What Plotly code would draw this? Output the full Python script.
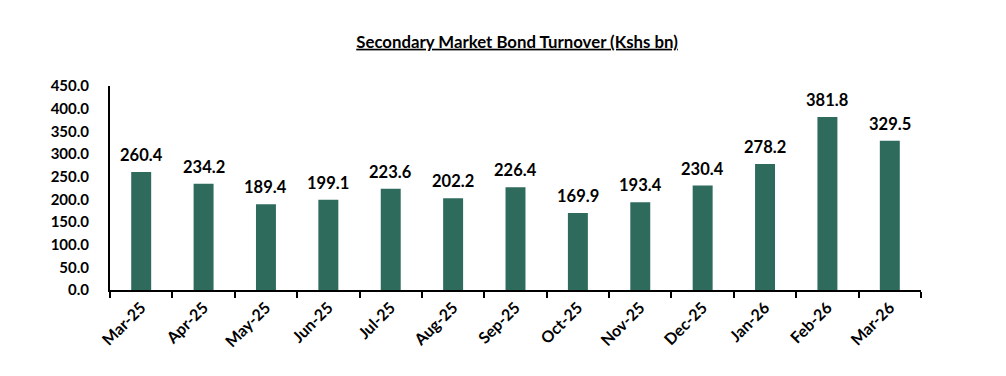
import plotly.graph_objects as go

months = ["Mar-25", "Apr-25", "May-25", "Jun-25", "Jul-25", "Aug-25", "Sep-25",
          "Oct-25", "Nov-25", "Dec-25", "Jan-26", "Feb-26", "Mar-26"]
turnover = [260.4, 234.2, 189.4, 199.1, 223.6, 202.2, 226.4,
            169.9, 193.4, 230.4, 278.2, 381.8, 329.5]
y_ticks = [0, 50, 100, 150, 200, 250, 300, 350, 400, 450]

FONT = "Lato, 'Open Sans', sans-serif"

fig = go.Figure(go.Bar(
    x=months, y=turnover,
    marker=dict(color="#2E6B5D", line=dict(width=0)),
    width=0.32,
    cliponaxis=False,
))

for m, v in zip(months, turnover):
    fig.add_annotation(
        x=m, y=v, text=f"{v:.1f}", showarrow=False,
        xanchor="center", yanchor="bottom", yshift=5,
        font=dict(family=FONT, size=16.5, color="black", weight="bold"),
    )

fig.update_layout(
    width=1006, height=376,
    margin=dict(l=102, r=93, t=78, b=94, autoexpand=False),
    paper_bgcolor="white", plot_bgcolor="white",
    showlegend=False,
    title=dict(text="<u>Secondary Market Bond Turnover (Kshs bn)</u>",
               x=0.506, xanchor="center", y=0.91, yanchor="middle",
               font=dict(family=FONT, size=16.8, color="black", weight="bold")),
    xaxis=dict(
        type="category", tickangle=-45, automargin=False,
        showline=True, linecolor="black", linewidth=2,
        ticks="outside", tickson="boundaries", ticklen=6, tickwidth=2, tickcolor="black",
        tickfont=dict(family=FONT, size=16, color="black", weight="bold"),
        showgrid=False,
    ),
    yaxis=dict(
        range=[0, 450], tickvals=y_ticks, automargin=False,
        ticktext=[f"{v:.1f}" for v in y_ticks],
        showline=True, linecolor="black", linewidth=2,
        ticks="", ticklabelstandoff=16,
        tickfont=dict(family=FONT, size=15, color="black", weight="bold"),
        showgrid=False, zeroline=False,
    ),
)

fig.write_html("out.html")
